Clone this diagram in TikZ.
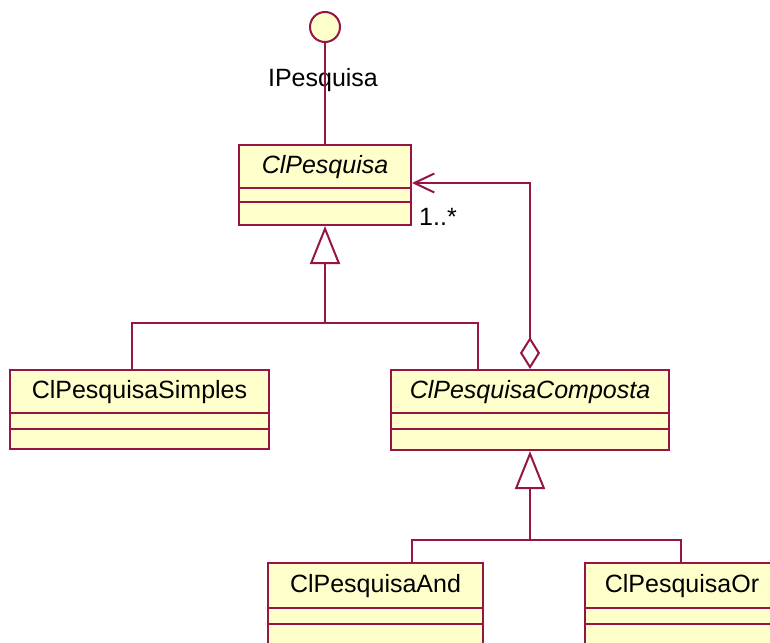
\documentclass[tikz,border=0pt]{standalone}
\usepackage{fontspec}
\setmainfont{Liberation Sans}
\usetikzlibrary{arrows.meta}
\definecolor{umlline}{RGB}{150,20,70}
\definecolor{umlfill}{RGB}{255,255,204}
\begin{document}
\begin{tikzpicture}[x=1pt,y=-1pt,
  classbox/.style={draw=umlline, fill=umlfill, line width=2pt, inner sep=0pt, rectangle},
  sep/.style={draw=umlline, line width=2pt},
  nametext/.style={inner sep=0pt, font=\fontsize{25}{29}\selectfont},
  conn/.style={draw=umlline, line width=2pt},
  gen/.style={conn, -{Triangle[open, length=38pt, width=30pt, line width=2pt]}},
  agg/.style={conn, {Diamond[open, length=32pt, width=20pt, line width=2pt]}-{Straight Barb[length=20pt, width=19pt, line width=2pt]}}
]
\useasboundingbox (0,0) rectangle (770,642);
\clip (0,0) rectangle (770,642);
\fill[white] (0,0) rectangle (770,642);

% interface
\node[circle, draw=umlline, fill=umlfill, line width=2pt, minimum size=30pt, inner sep=0pt] (iface) at (325,27) {};
\node[nametext] (ilbl) at (323,80) {IPesquisa};

% ClPesquisa
\node[classbox, minimum width=172pt, minimum height=80pt] (cp) at (325,185) {};
\draw[sep] (239,188) -- (411,188);
\draw[sep] (239,202) -- (411,202);
\node[nametext] (cpn) at (325,167) {\itshape ClPesquisa};

% ClPesquisaSimples
\node[classbox, minimum width=259pt, minimum height=79pt] (cps) at (139.5,409.5) {};
\draw[sep] (10,413) -- (269,413);
\draw[sep] (10,429) -- (269,429);
\node[nametext] (cpsn) at (139.5,392) {ClPesquisaSimples};

% ClPesquisaComposta
\node[classbox, minimum width=278pt, minimum height=80pt] (cpc) at (530,410) {};
\draw[sep] (391,413) -- (669,413);
\draw[sep] (391,429) -- (669,429);
\node[nametext] (cpcn) at (530,392) {\itshape ClPesquisaComposta};

% ClPesquisaAnd
\node[classbox, minimum width=215pt, minimum height=100pt] (cpa) at (375.5,613) {};
\draw[sep] (268,608) -- (483,608);
\draw[sep] (268,624) -- (483,624);
\node[nametext] (cpan) at (375.5,586) {ClPesquisaAnd};

% ClPesquisaOr
\node[classbox, minimum width=194pt, minimum height=100pt] (cpo) at (682,613) {};
\draw[sep] (585,608) -- (779,608);
\draw[sep] (585,624) -- (779,624);
\node[nametext] (cpon) at (682,586) {ClPesquisaOr};

% interface realization
\draw[conn] (iface.south) -- (cp.north);

% generalization 1
\coordinate (j1) at (325,323);
\draw[conn] ([xshift=123pt]cps.north west) |- (j1) -| ([xshift=88pt]cpc.north west);
\draw[gen] (j1) -- (cp.south);

% generalization 2
\coordinate (j2) at (530,540);
\draw[conn] ([xshift=145pt]cpa.north west) |- (j2) -| ([xshift=97pt]cpo.north west);
\draw[gen] (j2) -- (cpc.south);

% aggregation
\draw[agg] (cpc.north) |- (cp.east |- 0,183);
\node[nametext] (mult) at (438,217) {1..*};
\end{tikzpicture}
\end{document}
